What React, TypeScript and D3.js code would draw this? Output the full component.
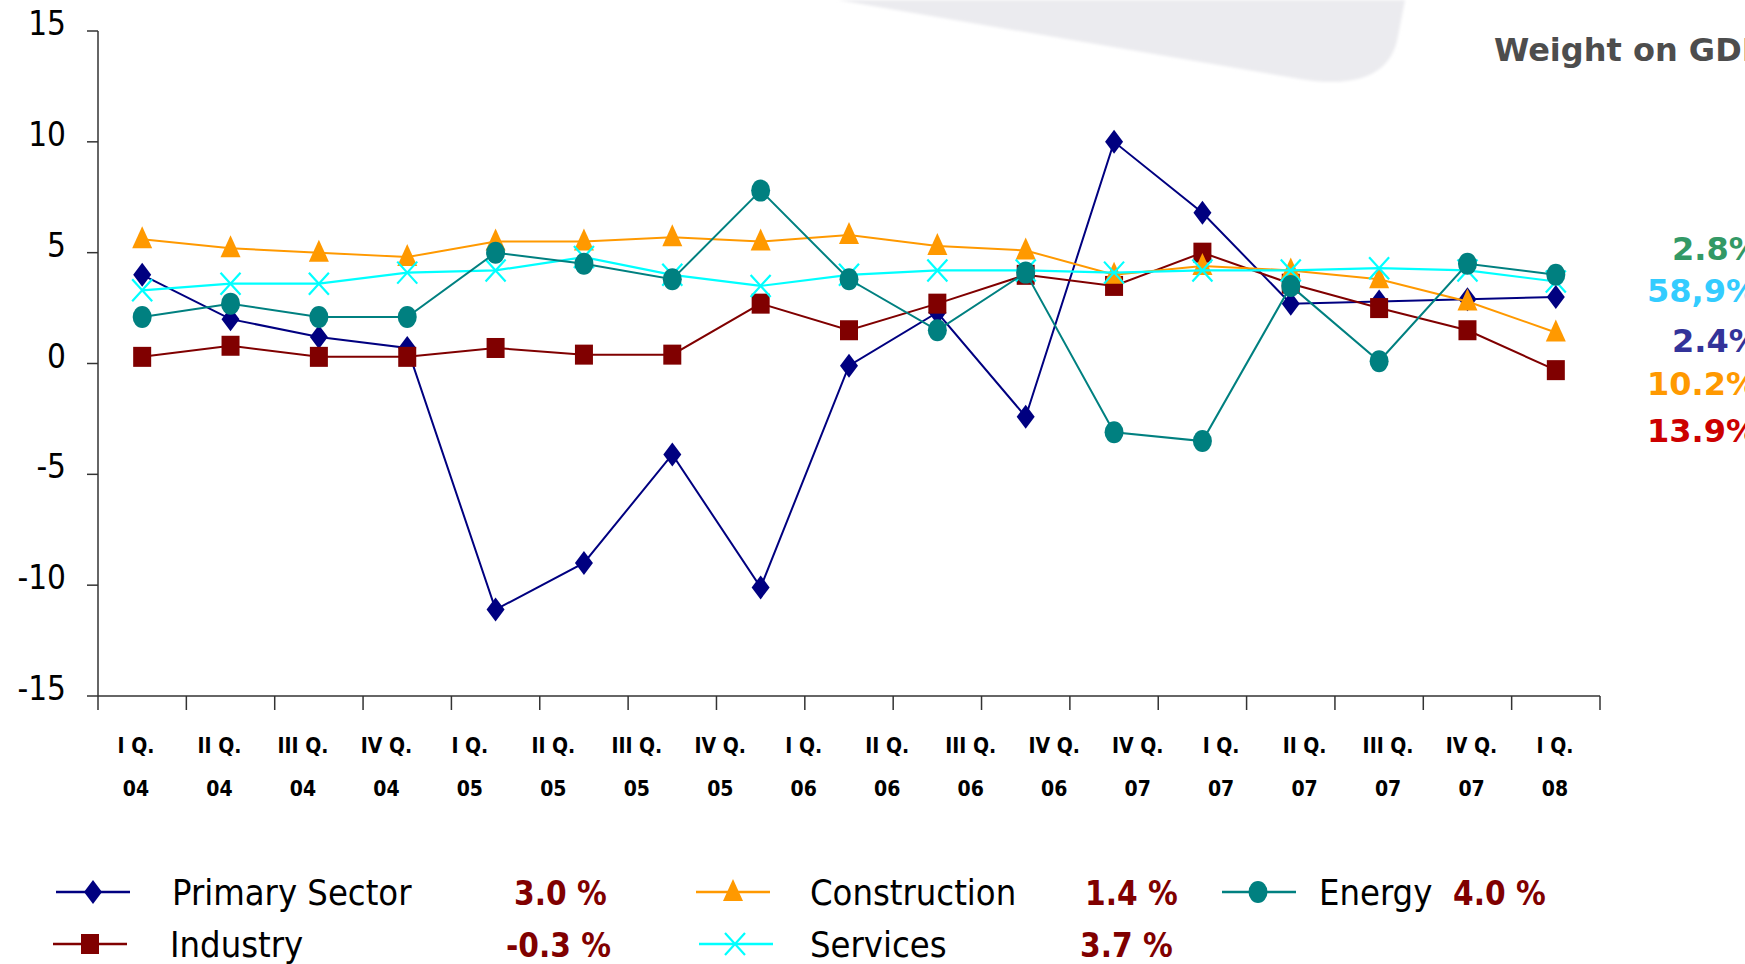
import React from "react";
import * as d3 from "d3";

// ---------- data ----------
const categories = [
  "2004Q1", "2004Q2", "2004Q3", "2004Q4",
  "2005Q1", "2005Q2", "2005Q3", "2005Q4",
  "2006Q1", "2006Q2", "2006Q3", "2006Q4",
  "2007Q1", "2007Q2", "2007Q3", "2007Q4",
  "2008Q1",
];

const primarySector = [4.0, 2.0, 1.2, 0.7, -11.1, -9.0, -4.1, -10.1, -0.1, 2.3, -2.4, 10.0, 6.8, 2.7, 2.8, 2.9, 3.0];
const industry = [0.3, 0.8, 0.3, 0.3, 0.7, 0.4, 0.4, 2.7, 1.5, 2.7, 4.0, 3.5, 5.0, 3.6, 2.5, 1.5, -0.3];
const construction = [5.6, 5.2, 5.0, 4.8, 5.5, 5.5, 5.7, 5.5, 5.8, 5.3, 5.1, 4.0, 4.4, 4.2, 3.8, 2.8, 1.4];
const services = [3.3, 3.6, 3.6, 4.1, 4.2, 4.8, 4.0, 3.5, 4.0, 4.2, 4.2, 4.1, 4.2, 4.2, 4.3, 4.2, 3.7];
const energy = [2.1, 2.7, 2.1, 2.1, 5.0, 4.5, 3.8, 7.8, 3.8, 1.5, 4.1, -3.1, -3.5, 3.5, 0.1, 4.5, 4.0];

const xLabelTop = [
  "I Q.", "II Q.", "III Q.", "IV Q.", "I Q.", "II Q.", "III Q.", "IV Q.",
  "I Q.", "II Q.", "III Q.", "IV Q.", "IV Q.", "I Q.", "II Q.", "III Q.", "IV Q.", "I Q.",
];
const xLabelBottom = [
  "04", "04", "04", "04", "05", "05", "05", "05",
  "06", "06", "06", "06", "07", "07", "07", "07", "07", "08",
];

const yTicks = [-15, -10, -5, 0, 5, 10, 15];

const gdpWeightTitle = "Weight on GDP";
const gdpWeights = ["2.8%", "58,9%", "2.4%", "10.2%", "13.9%"];
const gdpWeightColors = ["#339966", "#33ccff", "#333399", "#ff9900", "#cc0000"];

const legendNames = ["Primary Sector", "Industry", "Construction", "Services", "Energy"];
const legendValues = ["3.0 %", "-0.3 %", "1.4 %", "3.7 %", "4.0 %"];

// ---------- styling ----------
const COLORS = {
  primary: "#000080",
  industry: "#800000",
  construction: "#ff9900",
  services: "#00ffff",
  energy: "#008080",
};

type MarkerKind = "diamond" | "square" | "triangle" | "cross" | "circle";

function Marker({ kind, x, y, color }: { kind: MarkerKind; x: number; y: number; color: string }) {
  switch (kind) {
    case "diamond":
      return <path d={`M${x},${y - 12} L${x + 9},${y} L${x},${y + 12} L${x - 9},${y} Z`} fill={color} />;
    case "square":
      return <rect x={x - 9} y={y - 10} width={18} height={20} fill={color} />;
    case "triangle":
      return <path d={`M${x},${y - 13} L${x + 10},${y + 9} L${x - 10},${y + 9} Z`} fill={color} />;
    case "cross":
      return (
        <path
          d={`M${x - 10},${y - 11} L${x + 10},${y + 11} M${x + 10},${y - 11} L${x - 10},${y + 11}`}
          stroke={color}
          strokeWidth={2.2}
          fill="none"
        />
      );
    case "circle":
      return <ellipse cx={x} cy={y} rx={9.5} ry={11} fill={color} />;
  }
}

export default function App() {
  const W = 1745;
  const H = 964;

  const x = d3.scaleBand<string>().domain(categories).range([98, 1600]).paddingInner(0).paddingOuter(0);
  const y = d3.scaleLinear().domain([-15, 15]).range([696, 31]);
  const labelX = d3.scalePoint<number>().domain(d3.range(xLabelTop.length)).range([136, 1555]);

  const cx = (c: string) => (x(c) as number) + x.bandwidth() / 2;

  const line = d3
    .line<number>()
    .x((_, i) => cx(categories[i]))
    .y((d) => y(d));

  const series: { values: number[]; color: string; marker: MarkerKind; width: number }[] = [
    { values: primarySector, color: COLORS.primary, marker: "diamond", width: 2 },
    { values: industry, color: COLORS.industry, marker: "square", width: 2 },
    { values: construction, color: COLORS.construction, marker: "triangle", width: 2 },
    { values: services, color: COLORS.services, marker: "cross", width: 2.2 },
    { values: energy, color: COLORS.energy, marker: "circle", width: 2 },
  ];

  const xTickPos = [...categories.map((c) => x(c) as number), 1600];

  const legendItems = [
    { name: legendNames[0], value: legendValues[0], color: COLORS.primary, marker: "diamond" as MarkerKind, lx: 56, mx: 93, tx: 172, vx: 514, cy: 892 },
    { name: legendNames[1], value: legendValues[1], color: COLORS.industry, marker: "square" as MarkerKind, lx: 53, mx: 90, tx: 170, vx: 506, cy: 944 },
    { name: legendNames[2], value: legendValues[2], color: COLORS.construction, marker: "triangle" as MarkerKind, lx: 696, mx: 733, tx: 810, vx: 1085, cy: 892 },
    { name: legendNames[3], value: legendValues[3], color: COLORS.services, marker: "cross" as MarkerKind, lx: 699, mx: 735, tx: 810, vx: 1080, cy: 944 },
    { name: legendNames[4], value: legendValues[4], color: COLORS.energy, marker: "circle" as MarkerKind, lx: 1222, mx: 1258, tx: 1319, vx: 1453, cy: 892 },
  ];

  const gdpY = [248, 290, 340, 383, 430];
  const gdpX = [1672, 1647, 1672, 1647, 1647];

  return (
    <svg
      width={W}
      height={H}
      style={{ position: "absolute", left: 0, top: 0, background: "#ffffff" }}
      xmlns="http://www.w3.org/2000/svg"
    >
      <defs>
        <filter id="soft" x="-10%" y="-10%" width="120%" height="130%">
          <feGaussianBlur stdDeviation="1.5" />
        </filter>
      </defs>
      <rect width={W} height={H} fill="#ffffff" />

      {/* decorative background shape */}
      <path
        d="M838,0 L1300,79 C1362,89 1392,72 1398,36 L1405,0 Z"
        fill="#ebebef"
        filter="url(#soft)"
      />

      {/* title on right */}
      <text x={1494} y={61} fontFamily="DejaVu Sans" fontWeight="bold" fontSize={32} fill="#4d4d4d">
        {gdpWeightTitle}
      </text>

      {/* y axis */}
      <line x1={98} x2={98} y1={y(15)} y2={y(-15)} stroke="#333" strokeWidth={1.5} />
      {yTicks.map((t) => (
        <g key={t}>
          <line x1={87} x2={98} y1={y(t)} y2={y(t)} stroke="#333" strokeWidth={1.5} />
          <text
            x={66}
            y={y(t) + 4}
            textAnchor="end"
            fontFamily="DejaVu Sans Condensed, DejaVu Sans"
            fontSize={33}
            fill="#000"
          >
            {t}
          </text>
        </g>
      ))}

      {/* x axis */}
      <line x1={98} x2={1600} y1={y(-15)} y2={y(-15)} stroke="#333" strokeWidth={1.5} />
      {xTickPos.map((p, i) => (
        <line key={i} x1={p} x2={p} y1={y(-15)} y2={y(-15) + 14} stroke="#333" strokeWidth={1.5} />
      ))}
      {xLabelTop.map((l, i) => (
        <g key={i}>
          <text
            x={labelX(i)}
            y={753}
            textAnchor="middle"
            fontFamily="DejaVu Sans Condensed, DejaVu Sans"
            fontWeight="bold"
            fontSize={21}
            fill="#000"
          >
            {l}
          </text>
          <text
            x={labelX(i)}
            y={796}
            textAnchor="middle"
            fontFamily="DejaVu Sans Condensed, DejaVu Sans"
            fontWeight="bold"
            fontSize={21}
            fill="#000"
          >
            {xLabelBottom[i]}
          </text>
        </g>
      ))}

      {/* series */}
      {series.map((s, si) => (
        <g key={si}>
          <path d={line(s.values) || ""} fill="none" stroke={s.color} strokeWidth={s.width} />
          {s.values.map((v, i) => (
            <Marker key={i} kind={s.marker} x={cx(categories[i])} y={y(v)} color={s.color} />
          ))}
        </g>
      ))}

      {/* GDP weights */}
      {gdpWeights.map((w, i) => (
        <text
          key={i}
          x={gdpX[i]}
          y={gdpY[i] + 12}
          fontFamily="DejaVu Sans"
          fontWeight="bold"
          fontSize={32}
          fill={gdpWeightColors[i]}
        >
          {w}
        </text>
      ))}

      {/* legend */}
      {legendItems.map((it, i) => (
        <g key={i}>
          <line x1={it.lx} x2={it.lx + 74} y1={it.cy} y2={it.cy} stroke={it.color} strokeWidth={2.5} />
          <Marker kind={it.marker} x={it.mx} y={it.cy} color={it.color} />
          <text
            x={it.tx}
            y={it.cy + 13}
            fontFamily="DejaVu Sans Condensed, DejaVu Sans"
            fontSize={36}
            fill="#000"
          >
            {it.name}
          </text>
          <text
            x={it.vx}
            y={it.cy + 13}
            fontFamily="DejaVu Sans Condensed, DejaVu Sans"
            fontWeight="bold"
            fontSize={33}
            fill="#800000"
          >
            {it.value}
          </text>
        </g>
      ))}
    </svg>
  );
}
